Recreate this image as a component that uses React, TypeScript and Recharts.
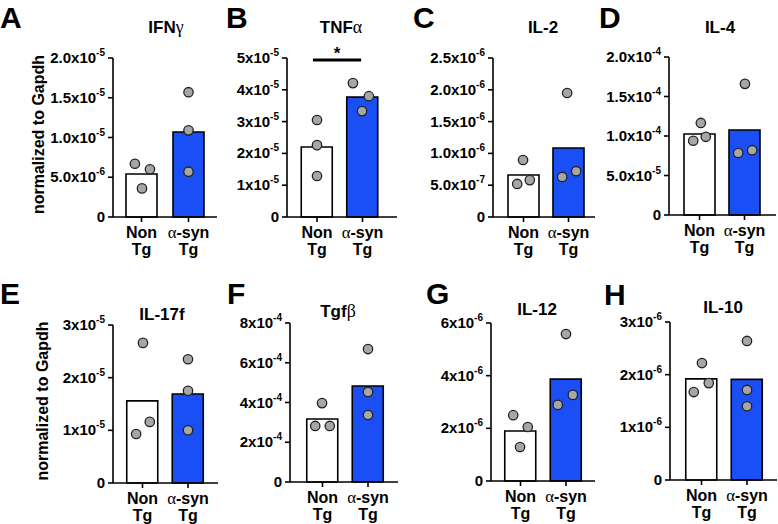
import React from "react";
import { ComposedChart, Bar, Cell, Scatter, XAxis, YAxis, ReferenceLine } from "recharts";

const FONT = "'Liberation Sans', Arial, Helvetica, sans-serif";
const GREEK_FONT = "'Liberation Serif', 'DejaVu Serif', serif";
const BLUE = "#1b4ff6";

// ---- data ----
const GROUPS = ["Non Tg", "α-syn Tg"];
const CYTOKINES = ["IFNγ", "TNFα", "IL-2", "IL-4", "IL-17f", "Tgfβ", "IL-12", "IL-10"];

const BAR_NON_TG = [5.4e-6, 2.2e-5, 6.6e-7, 1.025e-4, 1.56e-5, 3.17e-4, 1.9e-6, 1.92e-6];
const BAR_ASYN_TG = [1.07e-5, 3.77e-5, 1.085e-6, 1.076e-4, 1.69e-5, 4.83e-4, 3.87e-6, 1.91e-6];

const POINTS_NON_TG = [
  [6.7e-6, 6.0e-6, 3.6e-6],
  [3.05e-5, 2.26e-5, 1.29e-5],
  [8.96e-7, 5.2e-7, 5.8e-7],
  [1.165e-4, 9.4e-5, 9.9e-5],
  [2.66e-5, 1.16e-5, 9.3e-6],
  [3.97e-4, 2.82e-4, 2.82e-4],
  [2.5e-6, 2.05e-6, 1.29e-6],
  [2.22e-6, 1.67e-6, 1.84e-6],
];
const POINTS_ASYN_TG = [
  [1.57e-5, 1.09e-5, 5.7e-6],
  [4.21e-5, 3.8e-5, 3.33e-5],
  [1.95e-6, 6.3e-7, 7.2e-7],
  [1.66e-4, 7.85e-5, 8.2e-5],
  [2.35e-5, 1.75e-5, 1.0e-5],
  [6.69e-4, 4.53e-4, 3.37e-4],
  [5.58e-6, 2.89e-6, 3.27e-6],
  [2.64e-6, 1.71e-6, 1.4e-6],
];

// horizontal scatter of the dots, in fractions of a group
const JITTER_NON_TG = [
  [-0.14, 0.18, 0.01],
  [0, 0, 0],
  [-0.01, -0.14, 0.14],
  [0.03, -0.14, 0.14],
  [0.01, 0.16, -0.14],
  [-0.01, -0.16, 0.16],
  [-0.16, 0.16, -0.01],
  [0.01, -0.17, 0.16],
];
const JITTER_ASYN_TG = [
  [0, 0, 0],
  [-0.21, 0.14, -0.01],
  [-0.03, -0.14, 0.17],
  [0.01, -0.14, 0.17],
  [0, 0, 0],
  [0, 0, 0],
  [0, -0.18, 0.15],
  [0, 0, 0],
];

const Y_TICKS = [
  [0, 5e-6, 1e-5, 1.5e-5, 2e-5],
  [0, 1e-5, 2e-5, 3e-5, 4e-5, 5e-5],
  [0, 5e-7, 1e-6, 1.5e-6, 2e-6, 2.5e-6],
  [0, 5e-5, 1e-4, 1.5e-4, 2e-4],
  [0, 1e-5, 2e-5, 3e-5],
  [0, 2e-4, 4e-4, 6e-4, 8e-4],
  [0, 2e-6, 4e-6, 6e-6],
  [0, 1e-6, 2e-6, 3e-6],
];
const Y_TICK_LABELS = [
  ["0", "5.0x10^-6", "1.0x10^-5", "1.5x10^-5", "2.0x10^-5"],
  ["0", "1x10^-5", "2x10^-5", "3x10^-5", "4x10^-5", "5x10^-5"],
  ["0", "5.0x10^-7", "1.0x10^-6", "1.5x10^-6", "2.0x10^-6", "2.5x10^-6"],
  ["0", "5.0x10^-5", "1.0x10^-4", "1.5x10^-4", "2.0x10^-4"],
  ["0", "1x10^-5", "2x10^-5", "3x10^-5"],
  ["0", "2x10^-4", "4x10^-4", "6x10^-4", "8x10^-4"],
  ["0", "2x10^-6", "4x10^-6", "6x10^-6"],
  ["0", "1x10^-6", "2x10^-6", "3x10^-6"],
];

// significance bar for TNFα (group units, value)
const SIG_TNF = { from: -0.09, to: 0.97, y: 4.94e-5, label: "*" };

// ---- layout ----
const PANELS = [
  { letter: "A", x0: 113, x1: 217, top: 58, bottom: 217, c0: 141.5, c1: 188.5, tx: 166, ty: 33, lx: 0, ly: 28, ylab: true, yl: 38 },
  { letter: "B", x0: 287, x1: 397, top: 58, bottom: 217, c0: 317, c1: 362.5, tx: 341, ty: 33, lx: 226, ly: 28 },
  { letter: "C", x0: 493, x1: 595, top: 58, bottom: 217, c0: 523.5, c1: 568.5, tx: 543, ty: 33, lx: 413, ly: 28 },
  { letter: "D", x0: 669, x1: 776, top: 57, bottom: 215, c0: 699.5, c1: 744.5, tx: 720, ty: 33, lx: 599, ly: 28 },
  { letter: "E", x0: 113, x1: 218, top: 325, bottom: 483, c0: 142.5, c1: 188, tx: 162, ty: 320, lx: 0, ly: 304, ylab: true, yl: 42 },
  { letter: "F", x0: 290, x1: 398, top: 323, bottom: 482, c0: 322.5, c1: 368, tx: 338, ty: 317, lx: 227, ly: 304 },
  { letter: "G", x0: 491, x1: 595, top: 323, bottom: 481, c0: 520.5, c1: 566, tx: 537, ty: 315, lx: 426, ly: 304 },
  { letter: "H", x0: 670, x1: 777, top: 322, bottom: 480, c0: 701.5, c1: 747, tx: 723, ty: 313, lx: 604, ly: 305 },
];

const YW = 100;
const MT = 10;
const MR = 2;
const XH = 50;

function mixed(text: string) {
  return text.split(/([α-ω])/).filter((s) => s.length > 0).map((s, k) =>
    /[α-ω]/.test(s) ? (
      <tspan key={k} fontFamily={GREEK_FONT} fontWeight="normal" fontSize="1.05em">{s}</tspan>
    ) : (
      <tspan key={k}>{s}</tspan>
    )
  );
}

function YTick(props: any) {
  const { x, y, index, labels } = props;
  const lab: string = labels[index] ?? "";
  const [m, e] = lab.split("^");
  return (
    <text x={x - 1} y={y + 5} textAnchor="end" fontFamily={FONT} fontWeight="bold" fontSize={15} fill="#000">
      {m}
      {e && <tspan fontSize={10} dy={-7}>{e}</tspan>}
    </text>
  );
}

function XTick(props: any) {
  const { x, y, payload } = props;
  const [a, b] = String(payload.value).split(" ");
  return (
    <g>
      <text x={x} y={y + 13.5} textAnchor="middle" fontFamily={FONT} fontWeight="bold" fontSize={16} fill="#000">{mixed(a)}</text>
      <text x={x} y={y + 30.5} textAnchor="middle" fontFamily={FONT} fontWeight="bold" fontSize={16} fill="#000">{b}</text>
    </g>
  );
}

function Dot(props: any) {
  const { cx, cy } = props;
  return <circle cx={cx} cy={cy} r={4.7} fill="#a6a6a6" stroke="#222" strokeWidth={1.3} />;
}

function Panel({ i }: { i: number }) {
  const p = PANELS[i];
  const plotW = p.x1 - p.x0;
  const bw = p.c1 - p.c0;
  const padL = p.c0 - p.x0 - bw / 2;
  const padR = p.x1 - p.c1 - bw / 2;
  const W = YW + plotW + MR;
  const H = MT + (p.bottom - p.top) + XH;
  const ticks = Y_TICKS[i];
  const labels = Y_TICK_LABELS[i];

  const barData = GROUPS.map((g, k) => ({ g, y: k === 0 ? BAR_NON_TG[i] : BAR_ASYN_TG[i] }));
  const dots = [
    ...POINTS_NON_TG[i].map((v, j) => ({ x: 0 + JITTER_NON_TG[i][j], y: v })),
    ...POINTS_ASYN_TG[i].map((v, j) => ({ x: 1 + JITTER_ASYN_TG[i][j], y: v })),
  ];

  return (
    <div style={{ position: "absolute", left: p.x0 - YW, top: p.top - MT }}>
      <ComposedChart width={W} height={H} data={barData} margin={{ top: MT, right: MR, left: 0, bottom: 0 }}>
        <XAxis
          xAxisId="cat"
          dataKey="g"
          type="category"
          height={XH}
          padding={{ left: padL, right: padR }}
          interval={0}
          tickSize={5}
          axisLine={{ stroke: "#000", strokeWidth: 1.6 }}
          tickLine={{ stroke: "#000", strokeWidth: 1.6 }}
          tick={<XTick />}
        />
        <XAxis
          xAxisId="num"
          dataKey="x"
          type="number"
          domain={[-0.5, 1.5]}
          padding={{ left: padL, right: padR }}
          allowDataOverflow
          hide
        />
        <YAxis
          type="number"
          width={YW}
          domain={[0, ticks[ticks.length - 1]]}
          ticks={ticks}
          interval={0}
          tickSize={5}
          axisLine={{ stroke: "#000", strokeWidth: 1.6 }}
          tickLine={{ stroke: "#000", strokeWidth: 1.6 }}
          tick={(tp: any) => <YTick {...tp} labels={labels} />}
        />
        <Bar xAxisId="cat" dataKey="y" barSize={31} stroke="#000" strokeWidth={1.6} isAnimationActive={false}>
          {barData.map((d, k) => (
            <Cell key={k} fill={k === 0 ? "#ffffff" : BLUE} />
          ))}
        </Bar>
        <Scatter xAxisId="num" data={dots} dataKey="y" shape={<Dot />} isAnimationActive={false} />
        {i === 1 && (
          <ReferenceLine
            xAxisId="num"
            segment={[{ x: SIG_TNF.from, y: SIG_TNF.y }, { x: SIG_TNF.to, y: SIG_TNF.y }]}
            stroke="#000"
            strokeWidth={3}
          />
        )}
      </ComposedChart>
    </div>
  );
}

export default function App() {
  return (
    <div style={{ position: "absolute", left: 0, top: 0, width: 778, height: 524, background: "#fff", overflow: "hidden" }}>
      {PANELS.map((p, i) => (
        <Panel key={p.letter} i={i} />
      ))}
      <svg width={778} height={524} style={{ position: "absolute", left: 0, top: 0, pointerEvents: "none" }}>
        {PANELS.map((p, i) => (
          <g key={p.letter}>
            <text x={p.lx} y={p.ly} fontFamily={FONT} fontWeight="bold" fontSize={30} fill="#000">{p.letter}</text>
            <text x={p.tx} y={p.ty} textAnchor="middle" fontFamily={FONT} fontWeight="bold" fontSize={17} fill="#000">
              {mixed(CYTOKINES[i])}
            </text>
            {p.ylab && (
              <text
                x={0}
                y={0}
                transform={`translate(${p.yl + 6},${(p.top + p.bottom) / 2 - 3}) rotate(-90)`}
                textAnchor="middle"
                fontFamily={FONT}
                fontWeight="bold"
                fontSize={16}
                fill="#000"
              >
                normalized to Gapdh
              </text>
            )}
          </g>
        ))}
        <text x={337} y={59} textAnchor="middle" fontFamily={FONT} fontWeight="bold" fontSize={17} fill="#000">{SIG_TNF.label}</text>
      </svg>
    </div>
  );
}
